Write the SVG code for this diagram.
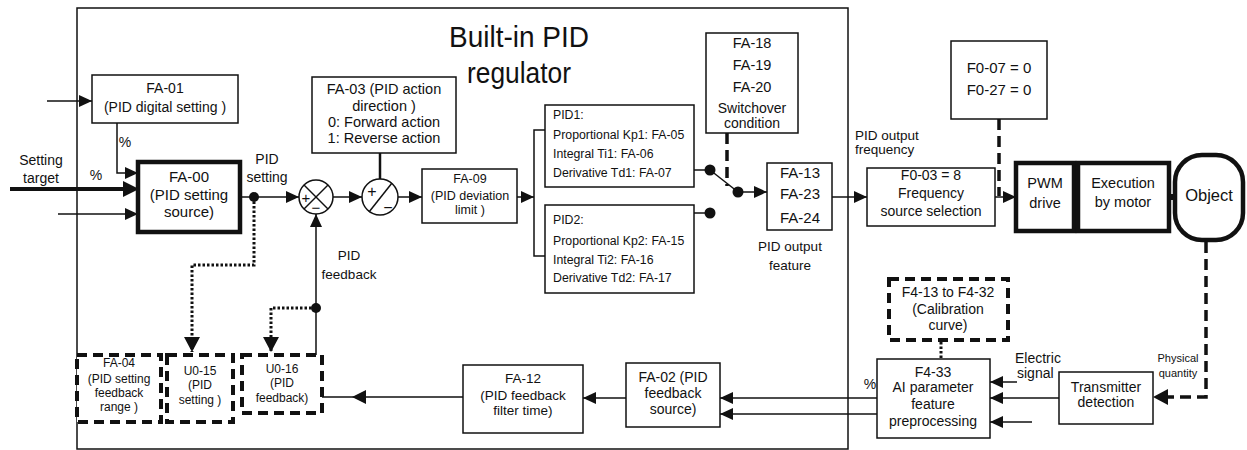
<svg xmlns="http://www.w3.org/2000/svg" width="1247" height="450" viewBox="0 0 1247 450">
<defs>
<marker id="ar" markerUnits="userSpaceOnUse" markerWidth="14" markerHeight="12" refX="13" refY="6" orient="auto"><path d="M0,0 L13,6 L0,12 Z" fill="#111"/></marker>
<marker id="arb" markerUnits="userSpaceOnUse" markerWidth="16" markerHeight="16" refX="15" refY="8" orient="auto"><path d="M0,0 L15,8 L0,16 Z" fill="#111"/></marker>
</defs>
<style>
text{font-family:"Liberation Sans",Arial,sans-serif;fill:#111;text-anchor:middle}
.l{text-anchor:start}
.box{fill:#fff;stroke:#111;stroke-width:1.5}
.thick{fill:#fff;stroke:#111;stroke-width:4.5}
.dbox{fill:#fff;stroke:#111;stroke-width:4;stroke-dasharray:10 6}
.ln{fill:none;stroke:#111;stroke-width:1.5}
.dash{fill:none;stroke:#111;stroke-width:3.5;stroke-dasharray:11 6}
.dot{fill:none;stroke:#111;stroke-width:3;stroke-dasharray:2.5 2}
.jd{fill:#111}
</style>
<rect width="1247" height="450" fill="#fff"/>

<g id="regulator">
<rect x="77" y="8" width="771" height="441" fill="none" stroke="#111" stroke-width="1.5"/>
<text x="519" y="47" font-size="30" textLength="140" lengthAdjust="spacingAndGlyphs">Built-in PID</text>
<text x="519" y="83" font-size="30" textLength="104" lengthAdjust="spacingAndGlyphs">regulator</text>
</g>

<g id="connectors">
<line class="ln" x1="47" y1="101" x2="92" y2="101" marker-end="url(#ar)"/>
<path class="ln" d="M117,123 V173 H138" marker-end="url(#ar)"/>
<line x1="10" y1="189" x2="126" y2="189" stroke="#111" stroke-width="4"/>
<polygon points="123,181 139,189 123,197" fill="#111"/>
<line class="ln" x1="58" y1="214" x2="138" y2="214" marker-end="url(#ar)"/>
<line class="ln" x1="240" y1="197" x2="299" y2="197" marker-end="url(#ar)"/>
<path class="dot" d="M254,197 V265 H192 V352" marker-end="url(#arb)"/>
<circle class="jd" cx="254" cy="197" r="5"/>
<line class="ln" x1="333" y1="197" x2="362" y2="197" marker-end="url(#ar)"/>
<line x1="380" y1="153" x2="380" y2="179" stroke="#111" stroke-width="2.5"/>
<line class="ln" x1="398" y1="197" x2="422" y2="197" marker-end="url(#ar)"/>
<line class="ln" x1="517" y1="197" x2="534" y2="197" marker-end="url(#ar)"/>
<path class="ln" d="M545,130 H534 V256 H545"/>
<line class="ln" x1="694" y1="170" x2="710" y2="170"/>
<line class="ln" x1="694" y1="213" x2="710" y2="213"/>
<line class="ln" x1="710" y1="170" x2="738" y2="192"/>
<circle class="jd" cx="710" cy="170" r="5.5"/>
<circle class="jd" cx="710" cy="213" r="5.5"/>
<circle class="jd" cx="738" cy="192" r="5.5"/>
<line class="ln" x1="738" y1="192" x2="767" y2="192" marker-end="url(#ar)"/>
<line class="dash" x1="727" y1="133" x2="727" y2="186"/>
<line class="ln" x1="832" y1="197" x2="867" y2="197" marker-end="url(#ar)"/>
<line class="dash" x1="999" y1="119" x2="999" y2="196"/>
<line class="ln" x1="995" y1="197" x2="1016" y2="197" marker-end="url(#ar)"/>
<line x1="1074" y1="197" x2="1078" y2="197" stroke="#111" stroke-width="6"/>
<line x1="1169" y1="197" x2="1175" y2="197" stroke="#111" stroke-width="6"/>
<path class="dash" d="M1206,242 V397 H1166"/>
<polygon points="1153,397 1168,389 1168,405" fill="#111"/>
<line class="ln" x1="1059" y1="398" x2="990" y2="398" marker-end="url(#ar)"/>
<line class="ln" x1="1017" y1="382" x2="990" y2="382" marker-end="url(#ar)"/>
<line class="ln" x1="1032" y1="422" x2="990" y2="422" marker-end="url(#ar)"/>
<line class="dot" x1="941" y1="342" x2="941" y2="359"/>
<line class="ln" x1="877" y1="398" x2="720" y2="398" marker-end="url(#ar)"/>
<line class="ln" x1="877" y1="414" x2="720" y2="414" marker-end="url(#ar)"/>
<line class="ln" x1="626" y1="398" x2="583" y2="398" marker-end="url(#ar)"/>
<path class="ln" d="M463,397 H316 V214" marker-end="url(#ar)"/>
<polygon points="352,397 366,390 366,404" fill="#111"/>
<path class="dot" d="M316,308 H271 V352" marker-end="url(#arb)"/>
<circle class="jd" cx="316" cy="308" r="5"/>
</g>

<g id="labels">
<text x="41" y="165" font-size="14">Setting</text>
<text x="41" y="183" font-size="14">target</text>
<text x="96" y="180" font-size="14">%</text>
<text x="125" y="147" font-size="14">%</text>
<text x="267" y="164" font-size="14">PID</text>
<text x="267" y="182" font-size="14">setting</text>
<text x="349" y="260" font-size="13.5">PID</text>
<text x="349" y="279" font-size="13.5">feedback</text>
<text x="790" y="251" font-size="13.5">PID output</text>
<text x="790" y="270" font-size="13.5">feature</text>
<text class="l" x="855" y="140" font-size="13.5">PID output</text>
<text class="l" x="855" y="154" font-size="13.5">frequency</text>
<text class="l" x="1015" y="363" font-size="14">Electric</text>
<text class="l" x="1017" y="378" font-size="14">signal</text>
<text x="1178" y="362" font-size="11">Physical</text>
<text x="1178" y="377" font-size="11">quantity</text>
<text x="870" y="389" font-size="14">%</text>
</g>

<g id="fa01">
<rect class="box" x="92" y="75" width="146" height="48"/>
<text x="165" y="93" font-size="14">FA-01</text>
<text x="165" y="112" font-size="14">(PID digital setting )</text>
</g>

<g id="fa00">
<rect class="thick" x="138" y="162" width="102" height="70"/>
<text x="189" y="182" font-size="15">FA-00</text>
<text x="189" y="200" font-size="15">(PID setting</text>
<text x="189" y="217" font-size="15">source)</text>
</g>

<g id="sum1">
<circle cx="316" cy="197" r="17" fill="#fff" stroke="#111" stroke-width="1.5"/>
<line class="ln" x1="304" y1="185" x2="328" y2="209"/>
<line class="ln" x1="328" y1="185" x2="304" y2="209"/>
<text x="306" y="203" font-size="15">+</text>
<text x="316" y="213" font-size="15">−</text>
</g>

<g id="sum2">
<circle cx="380" cy="197" r="18" fill="#fff" stroke="#111" stroke-width="1.5"/>
<line class="ln" x1="369" y1="212" x2="392" y2="183"/>
<text x="372" y="197" font-size="16">+</text>
<text x="388" y="213" font-size="16">−</text>
</g>

<g id="fa03">
<rect class="box" x="312" y="77" width="144" height="76"/>
<text x="384" y="94" font-size="14.5">FA-03 (PID action</text>
<text x="384" y="111" font-size="14.5">direction )</text>
<text x="384" y="127" font-size="14.5">0: Forward action</text>
<text x="384" y="143" font-size="14.5">1: Reverse action</text>
</g>

<g id="fa09">
<rect class="box" x="422" y="169" width="95" height="54"/>
<text x="470" y="183" font-size="12.5">FA-09</text>
<text x="470" y="200" font-size="12.5">(PID deviation</text>
<text x="470" y="214" font-size="12.5">limit )</text>
</g>

<g id="pid1">
<rect class="box" x="545" y="105" width="149" height="82"/>
<text class="l" x="553" y="119" font-size="12.3">PID1:</text>
<text class="l" x="553" y="139" font-size="12.3">Proportional Kp1: FA-05</text>
<text class="l" x="553" y="158" font-size="12.3">Integral Ti1: FA-06</text>
<text class="l" x="553" y="177" font-size="12.3">Derivative  Td1: FA-07</text>
</g>

<g id="pid2">
<rect class="box" x="545" y="205" width="149" height="88"/>
<text class="l" x="553" y="224" font-size="12.3">PID2:</text>
<text class="l" x="553" y="245" font-size="12.3">Proportional Kp2: FA-15</text>
<text class="l" x="553" y="264" font-size="12.3">Integral Ti2: FA-16</text>
<text class="l" x="553" y="282" font-size="12.3">Derivative  Td2: FA-17</text>
</g>

<g id="switchover">
<rect class="box" x="706" y="33" width="92" height="100"/>
<text x="752" y="48" font-size="14.5">FA-18</text>
<text x="752" y="70" font-size="14.5">FA-19</text>
<text x="752" y="92" font-size="14.5">FA-20</text>
<text x="752" y="113" font-size="14">Switchover</text>
<text x="752" y="128" font-size="14">condition</text>
</g>

<g id="fa13">
<rect class="box" x="767" y="163" width="65" height="67"/>
<text x="800" y="178" font-size="15">FA-13</text>
<text x="800" y="199" font-size="15">FA-23</text>
<text x="800" y="223" font-size="15">FA-24</text>
</g>

<g id="f007">
<rect class="box" x="951" y="41" width="96" height="78"/>
<text x="999" y="73" font-size="15">F0-07 = 0</text>
<text x="999" y="95" font-size="15">F0-27 = 0</text>
</g>

<g id="f003">
<rect class="box" x="867" y="168" width="128" height="58"/>
<text x="931" y="180" font-size="14">F0-03 = 8</text>
<text x="931" y="198" font-size="14">Frequency</text>
<text x="931" y="216" font-size="14">source selection</text>
</g>

<g id="pwm">
<rect class="thick" x="1016" y="163" width="58" height="68" stroke-width="5"/>
<text x="1045" y="188" font-size="14.5">PWM</text>
<text x="1045" y="208" font-size="14.5">drive</text>
</g>

<g id="motor">
<rect class="thick" x="1078" y="163" width="91" height="68" stroke-width="6"/>
<text x="1123" y="188" font-size="14.5">Execution</text>
<text x="1123" y="207" font-size="14.5">by motor</text>
</g>

<g id="object">
<rect class="thick" x="1175" y="155" width="68" height="85" rx="27" ry="27" stroke-width="5"/>
<text x="1209" y="201" font-size="16.5">Object</text>
</g>

<g id="transmitter">
<rect class="box" x="1059" y="372" width="94" height="52"/>
<text x="1106" y="392" font-size="14">Transmitter</text>
<text x="1106" y="407" font-size="14">detection</text>
</g>

<g id="calibration">
<rect class="dbox" x="889" y="279" width="119" height="61"/>
<text x="948" y="297" font-size="14">F4-13 to F4-32</text>
<text x="948" y="314" font-size="14">(Calibration</text>
<text x="948" y="330" font-size="14">curve)</text>
</g>

<g id="f433">
<rect class="box" x="877" y="359" width="113" height="79"/>
<text x="933" y="377" font-size="14">F4-33</text>
<text x="933" y="392" font-size="14">AI parameter</text>
<text x="933" y="409" font-size="14">feature</text>
<text x="933" y="426" font-size="14">preprocessing</text>
</g>

<g id="fa02">
<rect class="box" x="626" y="363" width="94" height="64"/>
<text x="673" y="382" font-size="14">FA-02 (PID</text>
<text x="673" y="398" font-size="14">feedback</text>
<text x="673" y="414" font-size="14">source)</text>
</g>

<g id="fa12">
<rect class="box" x="463" y="365" width="120" height="68"/>
<text x="523" y="383" font-size="13.5">FA-12</text>
<text x="523" y="400" font-size="13.5">(PID feedback</text>
<text x="523" y="415" font-size="13.5">filter time)</text>
</g>

<g id="fa04">
<rect class="dbox" x="77" y="355" width="84" height="67"/>
<text x="119" y="367" font-size="12">FA-04</text>
<text x="119" y="383" font-size="12">(PID setting</text>
<text x="119" y="397" font-size="12">feedback</text>
<text x="119" y="411" font-size="12">range )</text>
</g>

<g id="u015">
<rect class="dbox" x="167" y="355" width="66" height="67"/>
<text x="200" y="375" font-size="12">U0-15</text>
<text x="200" y="389" font-size="12">(PID</text>
<text x="200" y="404" font-size="12">setting )</text>
</g>

<g id="u016">
<rect class="dbox" x="242" y="355" width="80" height="58"/>
<text x="282" y="373" font-size="12">U0-16</text>
<text x="282" y="387" font-size="12">(PID</text>
<text x="282" y="402" font-size="12">feedback)</text>
</g>
</svg>
